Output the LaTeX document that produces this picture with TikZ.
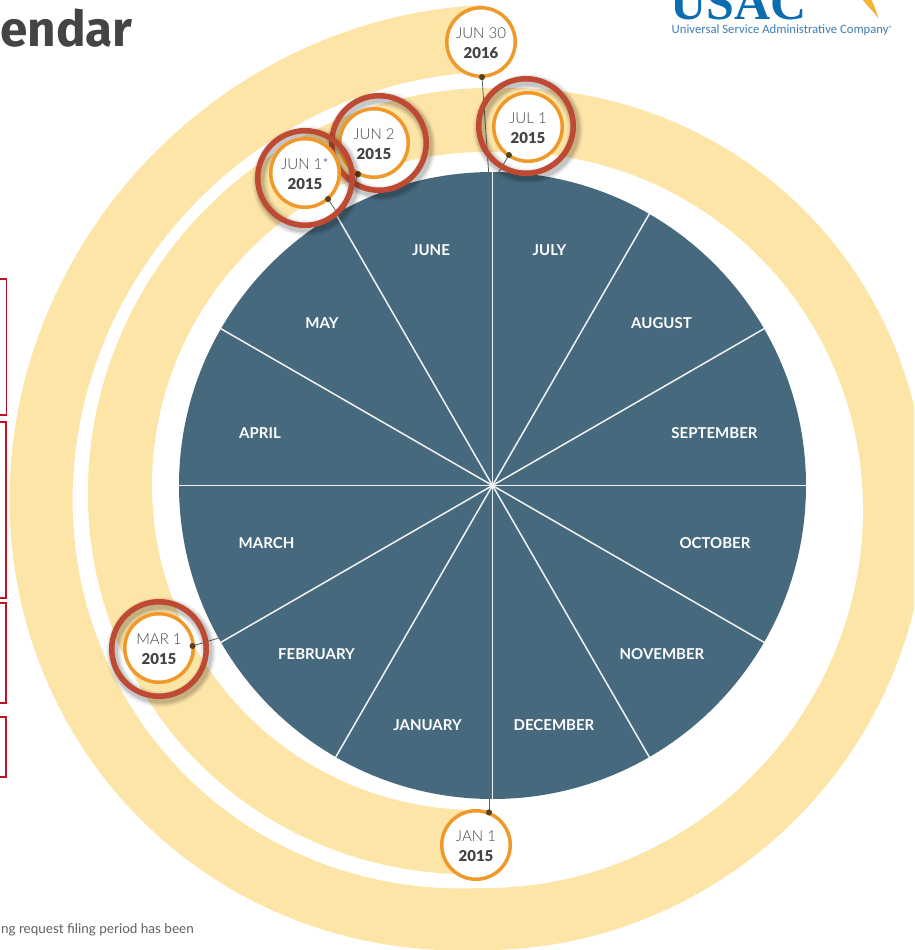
\documentclass[tikz,border=0pt]{standalone}
\usepackage{fontspec}
\setmainfont{Lato}
\newfontfamily\lightfont{Lato Light}
\newfontfamily\heavyfont{Lato Black}
\newfontfamily\titlefont{Fira Sans}
\newfontfamily\logofont{Liberation Serif}
\newfontfamily\logosub{Carlito}
\definecolor{bandc}{HTML}{FDE4A7}
\definecolor{discc}{HTML}{46697D}
\definecolor{orangec}{HTML}{F0992B}
\definecolor{redc}{HTML}{BE4A33}
\definecolor{inkc}{HTML}{444444}
\definecolor{boxc}{HTML}{C0111F}
\definecolor{logoc}{HTML}{0B6CB0}
\definecolor{logosubc}{HTML}{3D7DB5}
\definecolor{swooshc}{HTML}{F5B335}
\definecolor{dotc}{HTML}{5A4318}
\newcommand{\yr}[1]{{\fontsize{15}{20}\selectfont\heavyfont #1}}
\newcommand{\dt}[1]{\rule{0pt}{13.5pt}#1}
\tikzset{
  month/.style={text=white,font=\fontsize{15}{18}\selectfont\bfseries,inner sep=0pt},
  datecirc/.style={circle,draw=orangec,fill=white,line width=3.5pt,minimum size=68.5pt,inner sep=0pt,align=center,text=inkc,font=\fontsize{15}{20}\selectfont\lightfont},
  redring/.style={circle,draw=redc,line width=5.5pt,minimum size=94.5pt,inner sep=0pt},
  leadline/.style={draw=inkc!85,line width=0.8pt},
  leaddot/.style={circle,fill=dotc,minimum size=6pt,inner sep=0pt},
  spoke/.style={draw=white!92!discc,line width=1.5pt},
  redbox/.style={draw=boxc,line width=1.8pt},
}
\newcommand{\ringshade}[2]{%
  \foreach \w/\o in {16/0.03,13.5/0.05,11/0.07,8.5/0.09}{
    \draw[black,line width=\w pt,opacity=\o] (#1+2,#2+3) circle (47.25pt);
  }}
\begin{document}
\begin{tikzpicture}[x=1pt,y=-1pt]
\useasboundingbox (0,0) rectangle (914,950);
\clip (0,0) rectangle (914,950);
% spiral band: near-semicircles joined at top and bottom
\fill[bandc]
  plot[domain=90:270,samples=91] ({481+(329-2*sin(2*\x))*cos(\x)},{481+(329-2*sin(2*\x))*sin(\x)})
  -- plot[domain=270:450,samples=91] ({495+(368-5*sin(2*\x))*cos(\x)},{520+(368-5*sin(2*\x))*sin(\x)})
  -- plot[domain=90:270,samples=91] ({481+(408-10*sin(2*\x))*cos(\x)},{480+(408-10*sin(2*\x))*sin(\x)})
  -- plot[domain=270:90,samples=91] ({482.5+(472.5-11*sin(2*\x))*cos(\x)},{477.5+(472.5-11*sin(2*\x))*sin(\x)})
  -- plot[domain=450:270,samples=91] ({495+(431-6*sin(2*\x))*cos(\x)},{519+(431-6*sin(2*\x))*sin(\x)})
  -- plot[domain=270:90,samples=91] ({481+(393-6*sin(2*\x))*cos(\x)},{481+(393-6*sin(2*\x))*sin(\x)})
  -- cycle;
% disc
\node[circle,fill=discc,minimum size=627pt,inner sep=0pt] (disc) at (492.5,485.5) {};
\foreach \a in {0,30,...,330}{
  \draw[spoke] (disc.center) -- (disc.\a);
}
% months
\node[month] (mjul) at (549.5,250) {JULY};
\node[month] (maug) at (661.5,323) {AUGUST};
\node[month] (msep) at (714.5,433) {SEPTEMBER};
\node[month] (moct) at (715,543) {OCTOBER};
\node[month] (mnov) at (662,654) {NOVEMBER};
\node[month] (mdec) at (554,725) {DECEMBER};
\node[month] (mjan) at (427.5,725) {JANUARY};
\node[month] (mfeb) at (316.5,654) {FEBRUARY};
\node[month] (mmar) at (266.5,543) {MARCH};
\node[month] (mapr) at (260,433) {APRIL};
\node[month] (mmay) at (322,323) {MAY};
\node[month] (mjun) at (431,250) {JUNE};
% leader ends on the disc rim
\coordinate (e30) at (489,177);
\coordinate (ejul) at (497,175);
\coordinate (ejn2) at (343,213);
\coordinate (ejn1) at (340,217);
\coordinate (emar) at (222,637);
\coordinate (ejan) at (489,795);
% dots
\node[leaddot] (d30) at (482,77) {};
\node[leaddot] (djul) at (509,155) {};
\node[leaddot] (djn2) at (358,174) {};
\node[leaddot] (djn1) at (328,199) {};
\node[leaddot] (dmar) at (192.5,646) {};
\node[leaddot] (djan) at (489,812.5) {};
\draw[leadline] (d30.center) -- (e30);
\draw[leadline] (djul.center) -- (ejul);
\draw[leadline] (djn2.center) -- (ejn2);
\draw[leadline] (djn1.center) -- (ejn1);
\draw[leadline] (dmar.center) -- (emar);
\draw[leadline] (djan.center) -- (ejan);
% plain date circles
\node[datecirc] (jun30) at (481,42) {\dt{JUN 30}\\\yr{2016}};
\node[datecirc] (jan1) at (476,845) {\dt{JAN 1}\\\yr{2015}};
% ringed circles
\ringshade{379}{143}
\node[datecirc] (jun2) at (374,143) {\dt{JUN 2}\\\yr{2015}};
\node[redring] (jun2r) at (379,143) {};
\node[leaddot] (djn2b) at (djn2) {};
\ringshade{305}{178}
\node[datecirc] (jun1) at (305,173) {\dt{JUN 1*}\\\yr{2015}};
\node[redring] (jun1r) at (305,178) {};
\node[leaddot] (djn1b) at (djn1) {};
\ringshade{526}{126}
\node[datecirc] (jul1) at (528,127) {\dt{JUL 1}\\\yr{2015}};
\node[redring] (jul1r) at (526,126) {};
\node[leaddot] (djulb) at (djul) {};
\ringshade{159}{649}
\node[datecirc] (mar1) at (159,648) {\dt{MAR 1}\\\yr{2015}};
\node[redring] (mar1r) at (159,649) {};
\node[leaddot] (dmarb) at (dmar) {};
\node[leaddot] (d30b) at (d30) {};
\node[leaddot] (djanb) at (djan) {};
% title fragment, footer
\node[anchor=base west,inner sep=0pt,text=inkc,font=\fontsize{49.5}{50}\selectfont\titlefont\bfseries] (title) at (0,47) {endar};
\node[anchor=base east,inner sep=0pt,text=inkc!85,font=\fontsize{13.5}{15}\selectfont] (foot) at (194,933) {ng request filing period has been};
% red boxes
\draw[redbox] (-5,279) rectangle (6.5,415);
\draw[redbox] (-5,422) rectangle (6,598);
\draw[redbox] (-5,603) rectangle (6,703);
\draw[redbox] (-5,717) rectangle (6,777);
% logo
\node[anchor=base west,inner sep=0pt,text=logoc,font=\fontsize{50}{50}\selectfont\logofont\bfseries] (usac) at (670,20) {USAC};
\node[anchor=base west,inner sep=0pt,text=logosubc,font=\fontsize{12.7}{14}\selectfont\logosub] (usacsub) at (671.5,34) {Universal Service Administrative Company\raisebox{2.5pt}{\fontsize{8}{8}\selectfont ®}};
\fill[swooshc] (862,-1) .. controls (868,7) and (874,12) .. (878.5,18.5) .. controls (876,10) and (874,5) .. (871,-1) -- cycle;
\end{tikzpicture}
\end{document}
